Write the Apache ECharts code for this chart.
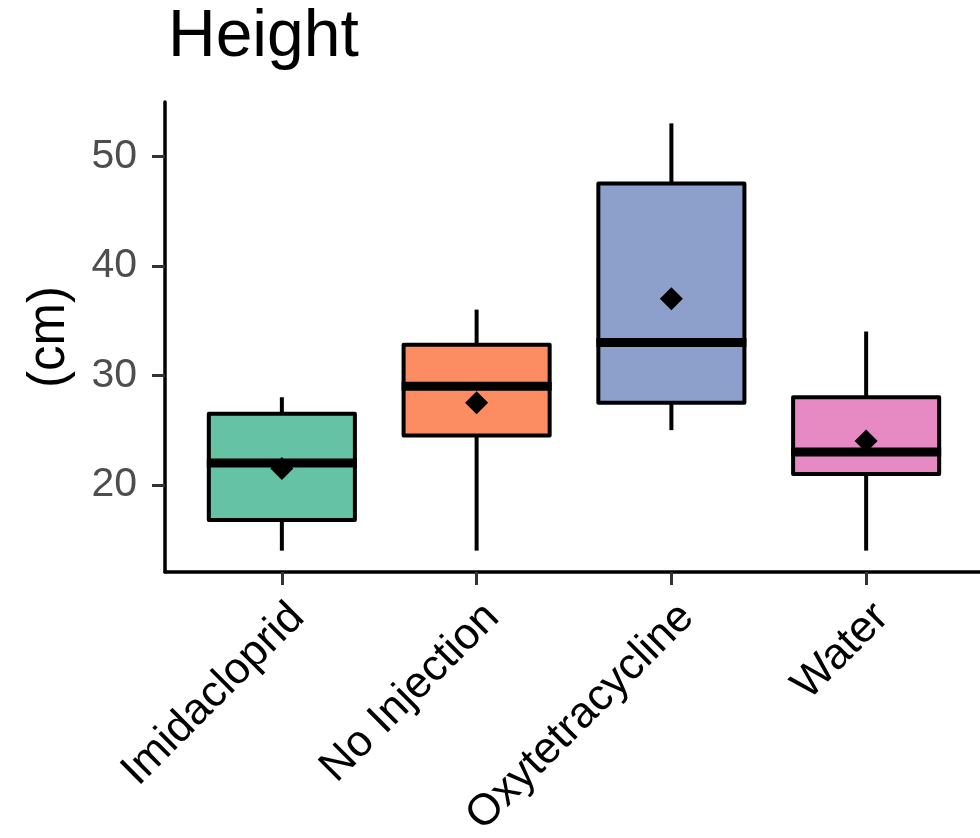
<!DOCTYPE html>
<html>
<head>
<meta charset="utf-8">
<script src="https://cdn.jsdelivr.net/npm/echarts@6/dist/echarts.min.js"></script>
<style>
  html, body { margin: 0; padding: 0; background: #ffffff; }
  #chart { width: 980px; height: 838px; }
</style>
</head>
<body>
<div id="chart"></div>
<script>
// Treatment groups and the five-number summary of plant height (cm)
const categories = ['Imidacloprid', 'No Injection', 'Oxytetracycline', 'Water'];
const whiskerLow = [14, 14, 25, 14];
const quartile1 = [16.8, 24.5, 27.5, 21];
const medians = [22, 29, 33, 23];
const quartile3 = [26.5, 32.8, 47.5, 28];
const whiskerHigh = [28, 36, 53, 34];
const means = [21.5, 27.5, 37, 24];
const yTicks = [20, 30, 40, 50];

// Set2-style fills, one per group
const palette = ['#66C2A5', '#FC8D62', '#8DA0CB', '#E78AC3'];

const boxData = categories.map((c, i) => [i + 1, whiskerLow[i], quartile1[i], medians[i], quartile3[i], whiskerHigh[i]]);
const meanData = categories.map((c, i) => [i + 1, means[i]]);
const xPositions = categories.map((c, i) => i + 1);

const FONT = '"Liberation Sans", Arial, Helvetica, sans-serif';

function renderBox(params, api) {
  const x = api.value(0);
  const half = api.size([0.75, 0])[0] / 2;
  const pLow = api.coord([x, api.value(1)]);
  const pQ1 = api.coord([x, api.value(2)]);
  const pMed = api.coord([x, api.value(3)]);
  const pQ3 = api.coord([x, api.value(4)]);
  const pHigh = api.coord([x, api.value(5)]);
  const cx = pMed[0];
  const stroke = { stroke: '#000', lineWidth: 4, fill: null };
  return {
    type: 'group',
    children: [
      { type: 'line', shape: { x1: cx, y1: pQ3[1], x2: cx, y2: pHigh[1] }, style: stroke },
      { type: 'line', shape: { x1: cx, y1: pQ1[1], x2: cx, y2: pLow[1] }, style: stroke },
      {
        type: 'rect',
        shape: { x: cx - half, y: pQ3[1], width: half * 2, height: pQ1[1] - pQ3[1] },
        style: { fill: palette[params.dataIndex], stroke: '#000', lineWidth: 4, lineJoin: 'round' }
      },
      { type: 'line', shape: { x1: cx - half - 2, y1: pMed[1], x2: cx + half + 2, y2: pMed[1] },
        style: { stroke: '#000', lineWidth: 9, lineCap: 'butt' } }
    ]
  };
}

const chart = echarts.init(document.getElementById('chart'), null, { renderer: 'canvas' });
chart.setOption({
  backgroundColor: '#ffffff',
  animation: false,
  title: {
    text: 'Height',
    left: 168,
    top: 5,
    padding: 0,
    textStyle: { fontFamily: FONT, fontSize: 66, fontWeight: 'normal', color: '#000', lineHeight: 66 }
  },
  grid: { left: 165, top: 102, right: -3, bottom: 266, outerBoundsMode: 'none', containLabel: false },
  xAxis: {
    type: 'value',
    min: 0.4,
    max: 4.6,
    splitLine: { show: false },
    axisLine: { show: true, lineStyle: { color: '#000', width: 3.5 } },
    axisTick: { show: true, customValues: xPositions, length: 13, lineStyle: { color: '#333', width: 3 } },
    axisLabel: {
      customValues: xPositions,
      formatter: v => categories[Math.round(v) - 1] || '',
      rotate: 45,
      align: 'right',
      verticalAlign: 'top',
      margin: 23,
      fontFamily: FONT,
      fontSize: 44,
      lineHeight: 44,
      color: '#000'
    }
  },
  yAxis: {
    type: 'value',
    min: 12.05,
    max: 54.95,
    name: '(cm)',
    nameLocation: 'middle',
    nameRotate: 90,
    nameGap: 90,
    nameTextStyle: { fontFamily: FONT, fontSize: 51, color: '#000' },
    splitLine: { show: false },
    axisLine: { show: true, lineStyle: { color: '#000', width: 3.5 } },
    axisTick: { show: true, customValues: yTicks, length: 13, lineStyle: { color: '#333', width: 3 } },
    axisLabel: {
      customValues: yTicks,
      margin: 28,
      fontFamily: FONT,
      fontSize: 41,
      color: '#4D4D4D'
    }
  },
  series: [
    {
      type: 'custom',
      name: 'Height',
      clip: false,
      renderItem: renderBox,
      encode: { x: 0, y: [1, 2, 3, 4, 5] },
      data: boxData,
      z: 2
    },
    {
      type: 'scatter',
      name: 'Mean',
      symbol: 'diamond',
      symbolSize: [23, 23],
      itemStyle: { color: '#000', opacity: 1 },
      data: meanData,
      z: 3
    }
  ]
});
</script>
</body>
</html>
